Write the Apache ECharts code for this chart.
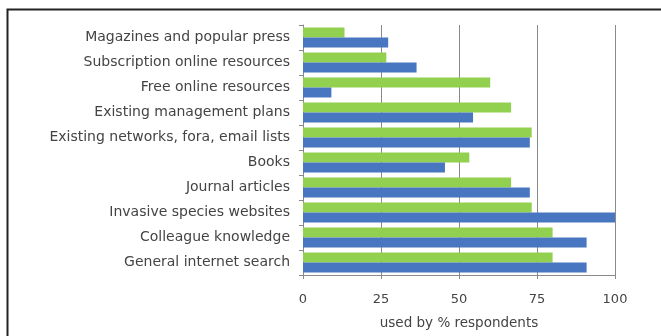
<!DOCTYPE html>
<html>
<head>
<meta charset="utf-8">
<script src="https://cdn.jsdelivr.net/npm/echarts@6/dist/echarts.min.js"></script>
<style>
html,body{margin:0;padding:0;background:#fff;}
#chart{width:661px;height:336px;}
</style>
</head>
<body>
<div id="chart"></div>
<script>
var categories = [
  "Magazines and popular press",
  "Subscription online resources",
  "Free online resources",
  "Existing management plans",
  "Existing networks, fora, email lists",
  "Books",
  "Journal articles",
  "Invasive species websites",
  "Colleague knowledge",
  "General internet search"
];
var greenValues = [13.3, 26.7, 60.0, 66.7, 73.3, 53.3, 66.7, 73.3, 80.0, 80.0];
var blueValues = [27.3, 36.4, 9.1, 54.5, 72.7, 45.5, 72.7, 100, 90.9, 90.9];
var xTicks = [0, 25, 50, 75, 100];
var xAxisTitle = "used by % respondents";

var chart = echarts.init(document.getElementById('chart'), null, {renderer: 'canvas'});
var textColor = '#444';
var fontFamily = 'DejaVu Sans';
chart.setOption({
  animation: false,
  backgroundColor: '#fff',
  grid: {left: 303, right: 46, top: 25, bottom: 61, containLabel: false, outerBoundsMode: 'none'},
  graphic: [{
    type: 'rect', left: 5, top: 7,
    shape: {width: 700, height: 400},
    style: {fill: 'none', stroke: '#222', lineWidth: 2}
  }],
  xAxis: {
    type: 'value', min: xTicks[0], max: xTicks[xTicks.length - 1], interval: 25,
    name: xAxisTitle, nameLocation: 'middle', nameGap: 41,
    nameTextStyle: {color: textColor, fontSize: 13.5, fontFamily: fontFamily},
    axisLine: {show: true, lineStyle: {color: '#8a8a8a'}},
    axisTick: {show: true, length: 4, lineStyle: {color: '#8a8a8a'}},
    axisLabel: {color: textColor, fontSize: 13, fontFamily: fontFamily, margin: 18},
    splitLine: {show: true, lineStyle: {color: '#8a8a8a', width: 1}}
  },
  yAxis: {
    type: 'category', data: categories, inverse: true,
    axisLine: {show: true, lineStyle: {color: '#8a8a8a'}},
    axisTick: {show: true, length: 4, lineStyle: {color: '#8a8a8a'}},
    axisLabel: {color: textColor, fontSize: 14, fontFamily: fontFamily, margin: 13},
    splitLine: {show: false}
  },
  series: [
    {type: 'bar', data: greenValues, barGap: '0%', barCategoryGap: '20%',
     itemStyle: {color: '#92D050'}},
    {type: 'bar', data: blueValues, barGap: '0%', barCategoryGap: '20%',
     itemStyle: {color: '#4876C0'}}
  ]
});
</script>
</body>
</html>
